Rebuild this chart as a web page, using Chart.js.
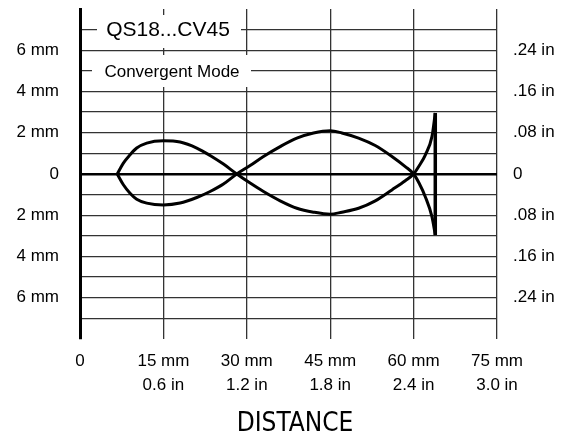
<!DOCTYPE html>
<html>
<head>
<meta charset="utf-8">
<script src="https://cdn.jsdelivr.net/npm/chart.js@4.4.1/dist/chart.umd.min.js"></script>
<style>
  body { margin: 0; background: #fff; }
  canvas { display: block; }
</style>
</head>
<body>
<canvas id="chartBeam" width="570" height="443"></canvas>
<script>
// beam pattern, distance in mm, offset in mm
const distance = [6.7, 7.8, 9, 10.2, 12, 15, 18, 21, 23.4, 25.8, 28.2, 30.6, 33, 36, 39, 42, 45, 47.1, 50.1, 53.1, 56.1, 58.5, 60, 61, 62.1, 63.3, 63.9];
const upperEdge = [0, 0.53, 0.93, 1.26, 1.50, 1.61, 1.55, 1.26, 0.90, 0.48, 0, -0.44, -0.85, -1.30, -1.66, -1.85, -1.95, -1.85, -1.66, -1.30, -0.77, -0.33, 0, 0.4, 0.92, 1.81, 2.96];
const lowerEdge = [0, -0.52, -0.93, -1.22, -1.41, -1.50, -1.41, -1.14, -0.85, -0.49, 0, 0.41, 0.85, 1.33, 1.74, 1.99, 2.10, 1.99, 1.74, 1.38, 0.85, 0.36, 0, -0.45, -1.1, -2.07, -2.96];
const endDistance = [63.9, 63.9];
const endOffset = [-2.96, 2.96];

const leftTickValues = [6, 4, 2, 0, -2, -4, -6];
const leftTickLabels = ['6 mm', '4 mm', '2 mm', '0', '2 mm', '4 mm', '6 mm'];
const rightTickLabels = ['.24 in', '.16 in', '.08 in', '0', '.08 in', '.16 in', '.24 in'];
const xTickValues = [0, 15, 30, 45, 60, 75];
const xTickMm = ['0', '15 mm', '30 mm', '45 mm', '60 mm', '75 mm'];
const xTickIn = ['', '0.6 in', '1.2 in', '1.8 in', '2.4 in', '3.0 in'];

const fontFam = "'Liberation Sans', Arial, sans-serif";

function pts(xs, ys) {
    return xs.map((x, i) => ({ x: x, y: ys[i] }));
}

// white label boxes over the grid + axis title
const labelBoxes = {
    id: 'labelBoxes',
    beforeDatasetsDraw(chart) {
        const ctx = chart.ctx;
        ctx.save();
        ctx.fillStyle = '#fff';
        ctx.fillRect(97, 15, 144, 33);
        ctx.fillRect(92, 55, 159, 32);
        ctx.fillStyle = '#000';
        ctx.textAlign = 'center';
        ctx.textBaseline = 'middle';
        ctx.font = '21px ' + fontFam;
        ctx.fillText('QS18...CV45', 168, 30);
        ctx.font = '17px ' + fontFam;
        ctx.fillText('Convergent Mode', 172, 72);
        ctx.font = "26px 'Liberation Sans Narrow', 'DejaVu Sans Condensed', Arial, sans-serif";
        ctx.fillText('DISTANCE', 295, 424);
        ctx.restore();
    }
};

const lineStyle = { borderColor: '#000', borderWidth: 3, pointRadius: 0, fill: false, showLine: true, cubicInterpolationMode: 'monotone' };

new Chart(document.getElementById('chartBeam'), {
    type: 'scatter',
    data: {
        datasets: [
            Object.assign({ data: pts(distance, upperEdge) }, lineStyle),
            Object.assign({ data: pts(distance, lowerEdge) }, lineStyle),
            Object.assign({ data: pts(endDistance, endOffset) }, lineStyle, { borderWidth: 3.5, cubicInterpolationMode: 'default', tension: 0 })
        ]
    },
    options: {
        responsive: false,
        animation: false,
        layout: { padding: { top: 9, left: 0, right: 0, bottom: 0 } },
        plugins: { legend: { display: false }, tooltip: { enabled: false } },
        scales: {
            x: {
                type: 'linear', min: 0, max: 75,
                afterFit: s => { s.height = 104; },
                afterBuildTicks: s => { s.ticks = xTickValues.map(v => ({ value: v })); },
                grid: {
                    drawTicks: false,
                    color: c => c.tick && c.tick.value === 0 ? 'rgba(0,0,0,0)' : '#333',
                    lineWidth: 1.3
                },
                border: { display: false },
                ticks: {
                    autoSkip: false, maxRotation: 0, padding: 10, color: '#000',
                    font: { family: fontFam, size: 17, lineHeight: 1.41 },
                    callback: v => {
                        const i = xTickValues.indexOf(v);
                        return i === 0 ? xTickMm[0] : [xTickMm[i], xTickIn[i]];
                    }
                }
            },
            y: {
                type: 'linear', min: -8, max: 8, position: 'left',
                afterFit: s => { s.width = 80; s.paddingTop = 0; s.paddingBottom = 0; },
                grid: {
                    drawTicks: false,
                    color: c => (Math.abs(c.tick.value) === 8 ? 'rgba(0,0,0,0)' : (c.tick.value === 0 ? '#000' : '#333')),
                    lineWidth: c => (c.tick.value === 0 ? 2.5 : 1.3)
                },
                border: { display: true, color: '#000', width: 3 },
                ticks: {
                    stepSize: 1, autoSkip: false, padding: 21, color: '#000',
                    font: { family: fontFam, size: 17 },
                    callback: v => {
                        const i = leftTickValues.indexOf(v);
                        return i < 0 ? '' : leftTickLabels[i];
                    }
                }
            },
            y2: {
                type: 'linear', min: -8, max: 8, position: 'right',
                afterFit: s => { s.width = 73; s.paddingTop = 0; s.paddingBottom = 0; },
                grid: { display: false, drawTicks: false },
                border: { display: false },
                ticks: {
                    stepSize: 1, autoSkip: false, padding: 16, color: '#000',
                    font: { family: fontFam, size: 17 },
                    callback: v => {
                        const i = leftTickValues.indexOf(v);
                        return i < 0 ? '' : rightTickLabels[i];
                    }
                }
            }
        }
    },
    plugins: [labelBoxes]
});
</script>
</body>
</html>
